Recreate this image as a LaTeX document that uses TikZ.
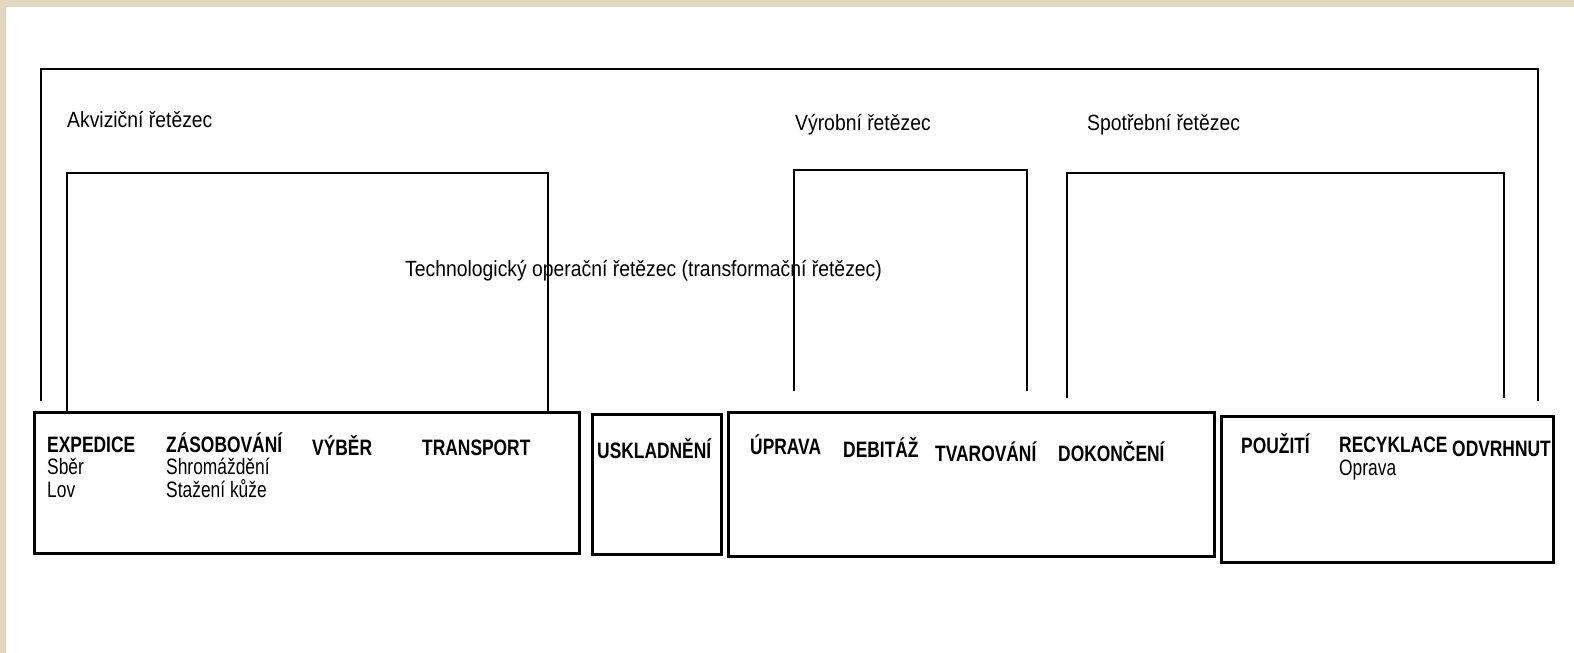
\documentclass[tikz,border=0pt]{standalone}
\usepackage{fontspec}
\setmainfont{Liberation Sans}
\newfontfamily\chainfont{Liberation Sans}[FakeStretch=0.88]
\newfontfamily\stagefont{Liberation Sans}[FakeStretch=0.78]
\usetikzlibrary{positioning}
\definecolor{scanbeige}{RGB}{226,216,194}

\begin{document}
\begin{tikzpicture}[x=1pt,y=-1pt,
        stagebox/.style={draw=black, line width=2.8pt, anchor=north west, inner sep=0pt},
        chainline/.style={draw=black, line width=2.3pt},
        chainlabel/.style={anchor=base west, inner sep=0pt,
            font=\chainfont\fontsize{22}{24}\selectfont},
        stagelabel/.style={anchor=base west, inner sep=0pt, align=left,
            font=\stagefont\fontsize{22.3}{22.5}\selectfont}
    ]

    \useasboundingbox (0,0) rectangle (1574,653);
    \fill[white] (0,0) rectangle (1574,653);
    \fill[scanbeige] (0,0) rectangle (1574,7);
    \fill[scanbeige] (0,0) rectangle (6,653);

    % boxes of the individual stages
    \node[stagebox, minimum width=545, minimum height=141] (acqbox) at (33,411) {};
    \node[stagebox, minimum width=129, minimum height=140] (storebox) at (591,413) {};
    \node[stagebox, minimum width=486, minimum height=144] (prodbox) at (727,411) {};
    \node[stagebox, minimum width=332, minimum height=146] (consbox) at (1220,415) {};

    % brackets of the chains (open at the bottom)
    \coordinate (outerL) at (41,69);
    \coordinate (outerR) at (1538,69);
    \coordinate (acqL) at (67,173);
    \coordinate (acqR) at (548,173);
    \coordinate (prodL) at (794,170);
    \coordinate (prodR) at (1027,170);
    \coordinate (consL) at (1067,173);
    \coordinate (consR) at (1504,173);
    \coordinate (outerfoot) at (0,401);
    \coordinate (prodfoot) at (0,391);
    \coordinate (consfoot) at (0,398);

    \draw[chainline] (outerL |- outerfoot) -- (outerL) -- (outerR) -- (outerR |- outerfoot);
    \draw[chainline] (acqL |- acqbox.north) -- (acqL) -- (acqR) -- (acqR |- acqbox.north);
    \draw[chainline] (prodL |- prodfoot) -- (prodL) -- (prodR) -- (prodR |- prodfoot);
    \draw[chainline] (consL |- consfoot) -- (consL) -- (consR) -- (consR |- consfoot);

    % chain names
    \node[chainlabel] (akvizice) at (67,127) {Akviziční řetězec};
    \node[chainlabel] (vyroba) at (795,130) {Výrobní řetězec};
    \node[chainlabel] (spotreba) at (1087,130) {Spotřební řetězec};
    \node[chainlabel] (technologie) at (405,276) {Technologický operační řetězec (transformační řetězec)};

    % stages (base = baseline of the last line)
    \node[stagelabel] (expedice) at (47,497) {\textbf{EXPEDICE}\\Sběr\\Lov};
    \node[stagelabel] (zasobovani) at (166,497) {\textbf{ZÁSOBOVÁNÍ}\\Shromáždění\\Stažení kůže};
    \node[stagelabel] (vyber) at (312,455) {\textbf{VÝBĚR}};
    \node[stagelabel] (transport) at (422,455) {\textbf{TRANSPORT}};
    \node[stagelabel] (uskladneni) at (597,458) {\textbf{USKLADNĚNÍ}};
    \node[stagelabel] (uprava) at (750,454) {\textbf{ÚPRAVA}};
    \node[stagelabel] (debitaz) at (843,457) {\textbf{DEBITÁŽ}};
    \node[stagelabel] (tvarovani) at (935,461) {\textbf{TVAROVÁNÍ}};
    \node[stagelabel] (dokonceni) at (1058,461) {\textbf{DOKONČENÍ}};
    \node[stagelabel] (pouziti) at (1241,453) {\textbf{POUŽITÍ}};
    \node[stagelabel] (recyklace) at (1339,475) {\textbf{RECYKLACE}\\[0pt]Oprava};
    \node[stagelabel] (odvrhnuti) at (1452,456) {\textbf{ODVRHNUT}};

\end{tikzpicture}
\end{document}
